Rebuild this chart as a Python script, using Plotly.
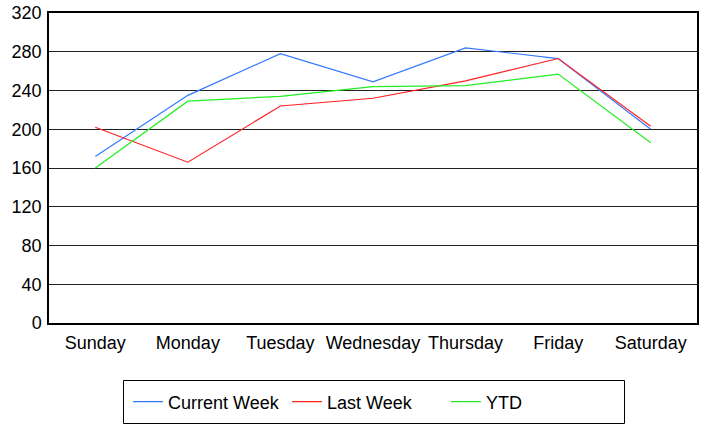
import plotly.graph_objects as go

days = ["Sunday", "Monday", "Tuesday", "Wednesday", "Thursday", "Friday", "Saturday"]
current_week = [172, 235, 278, 249, 284, 273, 200]
last_week = [202, 166, 224, 232, 250, 273, 203]
ytd = [160, 229, 234, 244, 245, 257, 186]
y_ticks = [0, 40, 80, 120, 160, 200, 240, 280, 320]

font = dict(family="Liberation Sans, Arial, sans-serif", size=18, color="#000000")

fig = go.Figure()
for name, vals, color in [
    ("Current Week", current_week, "#3377ff"),
    ("Last Week", last_week, "#ff2020"),
    ("YTD", ytd, "#22ee22"),
]:
    fig.add_trace(go.Scatter(x=days, y=vals, name=name, mode="lines",
                             line=dict(color=color, width=1.2)))

# box drawn around the legend
fig.add_shape(type="rect", xref="paper", yref="paper",
              x0=(123.5 - 49) / 648, x1=(624.5 - 49) / 648,
              y0=(323 - 423.5) / 310, y1=(323 - 380.5) / 310,
              line=dict(color="#000000", width=1), fillcolor="rgba(0,0,0,0)")

fig.update_layout(
    width=703, height=424,
    margin=dict(l=49, r=6, t=13, b=101, autoexpand=False),
    paper_bgcolor="#ffffff", plot_bgcolor="#ffffff",
    font=font,
    showlegend=True,
    legend=dict(orientation="h", x=(128 - 49) / 648, y=(323 - 402) / 310,
                xanchor="left", yanchor="middle",
                bgcolor="rgba(0,0,0,0)", borderwidth=0,
                entrywidth=114, entrywidthmode="pixels",
                itemwidth=30, font=font),
    xaxis=dict(type="category", categoryorder="array", categoryarray=days,
               range=[-0.5, 6.5], showgrid=False, zeroline=False,
               showline=True, linecolor="#000000", linewidth=1.5, mirror=True,
               ticks="", ticklabelstandoff=3, tickfont=font),
    yaxis=dict(range=[0, 320], tickvals=y_ticks, ticktext=[str(v) for v in y_ticks],
               showgrid=True, gridcolor="#222222", gridwidth=1, zeroline=False,
               showline=True, linecolor="#000000", linewidth=1.5, mirror=True,
               ticks="", ticklabelstandoff=2, tickfont=font),
)

fig.write_html("out.html")
